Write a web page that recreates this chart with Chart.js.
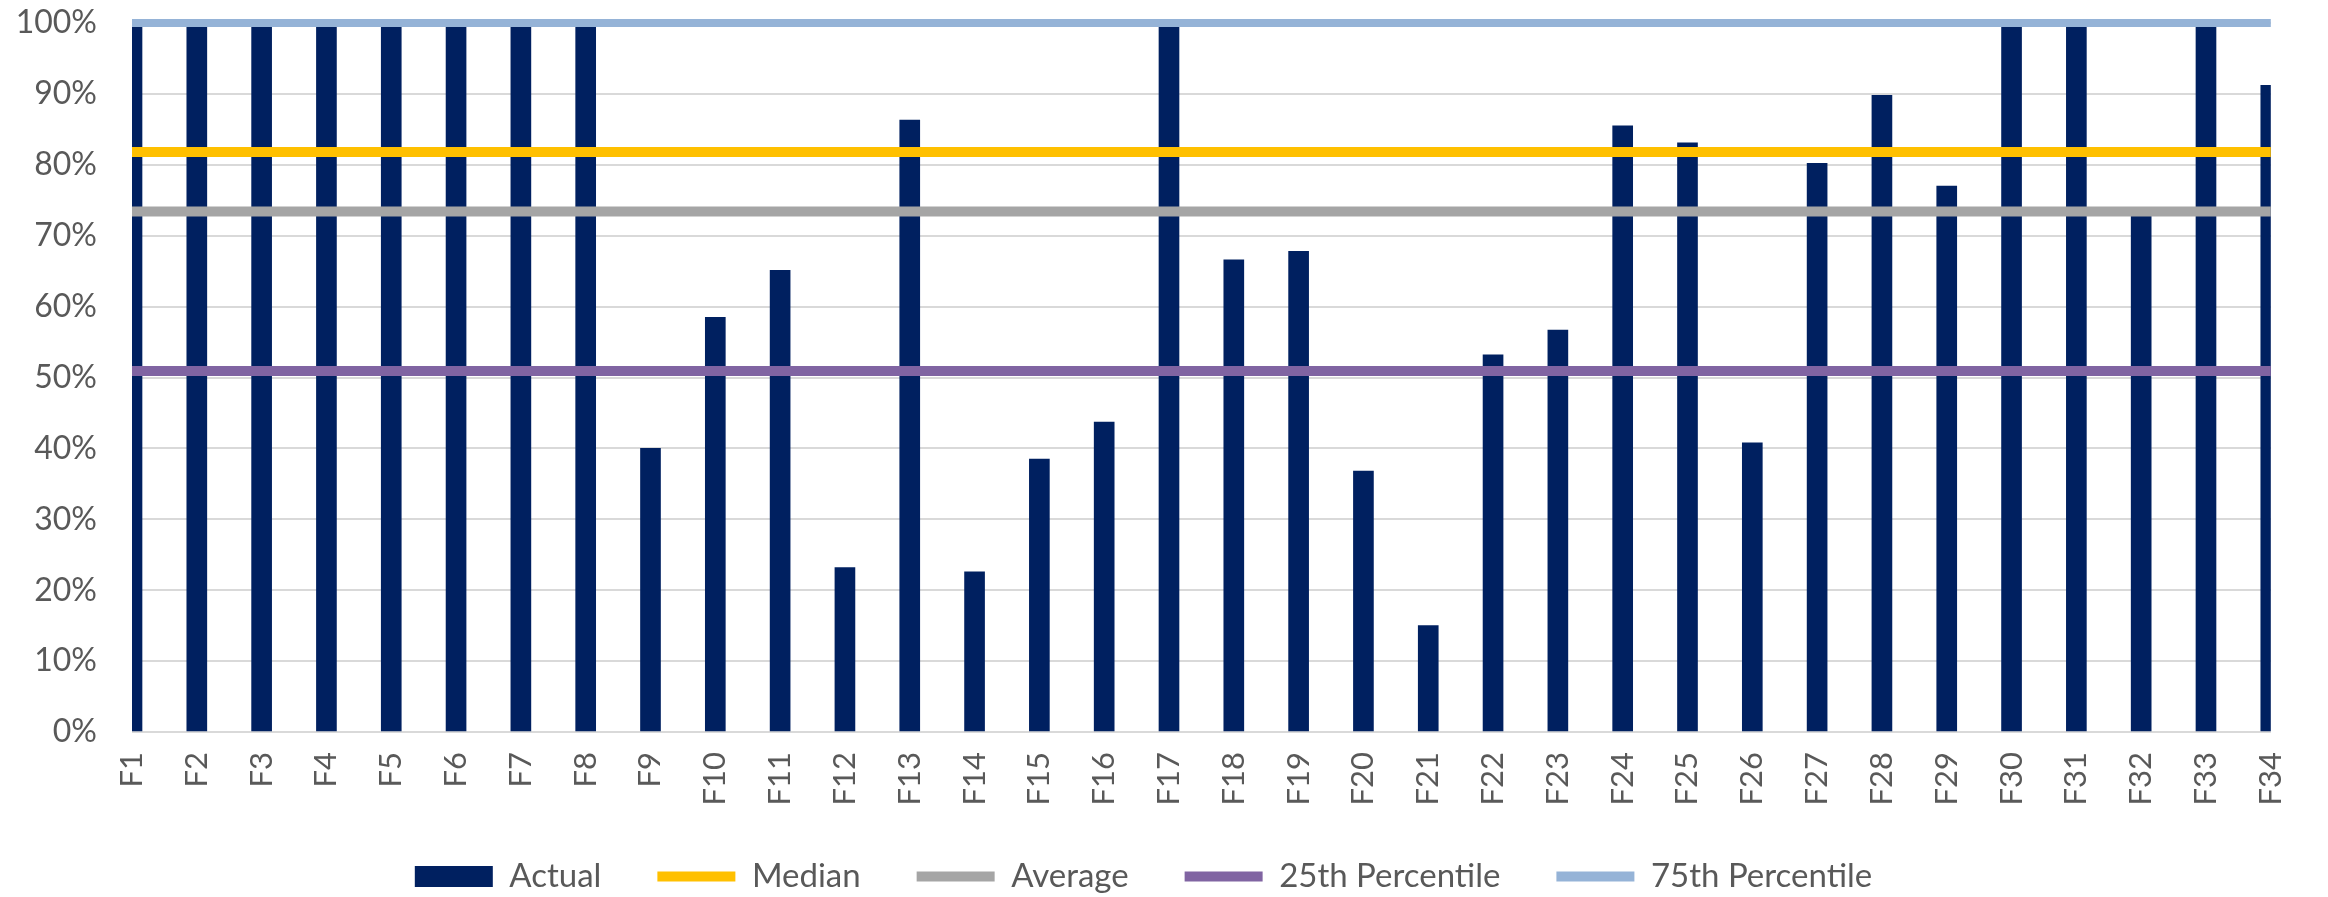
<!DOCTYPE html>
<html>
<head>
<meta charset="utf-8">
<script src="https://cdn.jsdelivr.net/npm/chart.js@4"></script>
<style>
  html, body { margin: 0; padding: 0; background: #fff; }
  #wrap { width: 2328px; height: 897px; }
</style>
</head>
<body>
<div id="wrap"><canvas id="chart1"></canvas></div>
<script>
const labels = ['F1','F2','F3','F4','F5','F6','F7','F8','F9','F10','F11','F12','F13','F14','F15','F16','F17',
  'F18','F19','F20','F21','F22','F23','F24','F25','F26','F27','F28','F29','F30','F31','F32','F33','F34'];
const actual = [1, 1, 1, 1, 1, 1, 1, 1, 0.40, 0.585, 0.651, 0.232, 0.863, 0.226, 0.385, 0.437, 1,
  0.666, 0.678, 0.368, 0.15, 0.532, 0.567, 0.855, 0.831, 0.408, 0.802, 0.898, 0.770, 1, 1, 0.73, 1, 0.912];
const median = 0.818;
const average = 0.734;
const pct25 = 0.509;
const pct75 = 1.0;

const font = 'Lato, "Open Sans", sans-serif';
const flat = v => labels.map(() => v);

const config = {
    type: 'bar',
    data: {
        labels: labels,
        datasets: [{
            label: 'Actual',
            data: actual,
            backgroundColor: '#002060',
            borderWidth: 0,
            barThickness: 20,
            clip: 0,
            order: 1
        },
        {
            type: 'line',
            label: 'Median',
            data: flat(median),
            borderColor: '#FFC000',
            backgroundColor: '#FFC000',
            borderWidth: 10,
            pointRadius: 0,
            order: 0
        },
        {
            type: 'line',
            label: 'Average',
            data: flat(average),
            borderColor: '#A5A5A5',
            backgroundColor: '#A5A5A5',
            borderWidth: 10,
            pointRadius: 0,
            order: 0
        },
        {
            type: 'line',
            label: '25th Percentile',
            data: flat(pct25),
            borderColor: '#8064A2',
            backgroundColor: '#8064A2',
            borderWidth: 10,
            pointRadius: 0,
            order: 0
        },
        {
            type: 'line',
            label: '75th Percentile',
            data: flat(pct75),
            borderColor: '#95B3D7',
            backgroundColor: '#95B3D7',
            borderWidth: 8,
            pointRadius: 0,
            clip: false,
            order: 0
        }]
    },
    options: {
        responsive: true,
        maintainAspectRatio: false,
        animation: false,
        layout: {
            padding: { left: 0, right: 41, top: 23, bottom: -6 }
        },
        plugins: {
            tooltip: { enabled: false },
            legend: {
                position: 'bottom',
                labels: {
                    color: '#595959',
                    font: { family: font, size: 33 },
                    usePointStyle: true,
                    pointStyleWidth: 78,
                    boxHeight: 21,
                    padding: 56,
                    sort: (a, b) => a.datasetIndex - b.datasetIndex,
                    generateLabels: (chart) => {
                        const items = Chart.defaults.plugins.legend.labels.generateLabels(chart);
                        items.forEach(it => {
                            if (it.datasetIndex === 0) {
                                it.pointStyle = 'rect';
                                it.lineWidth = 0;
                            } else {
                                it.pointStyle = 'line';
                                it.lineWidth = 10;
                            }
                        });
                        return items;
                    }
                }
            }
        },
        scales: {
            x: {
                offset: false,
                grid: { display: false, offset: false, drawTicks: false },
                border: { display: false },
                ticks: {
                    color: '#595959',
                    font: { family: font, size: 31 },
                    minRotation: 90,
                    maxRotation: 90,
                    autoSkip: false,
                    padding: 20
                },
                afterFit: (s) => { s.height = 72; }
            },
            y: {
                min: 0,
                max: 1,
                grid: { color: '#D9D9D9', lineWidth: 2, drawTicks: false },
                border: { display: false },
                ticks: {
                    stepSize: 0.1,
                    color: '#595959',
                    font: { family: font, size: 32 },
                    padding: 35,
                    callback: (v) => Math.round(v * 100) + '%'
                },
                afterFit: (s) => {
                    s.width = 132;
                    s.paddingTop = 0;
                    s.paddingBottom = 0;
                }
            }
        }
    }
};

const ctx1 = document.getElementById('chart1').getContext('2d');
const chart1 = new Chart(ctx1, config);
</script>
</body>
</html>
